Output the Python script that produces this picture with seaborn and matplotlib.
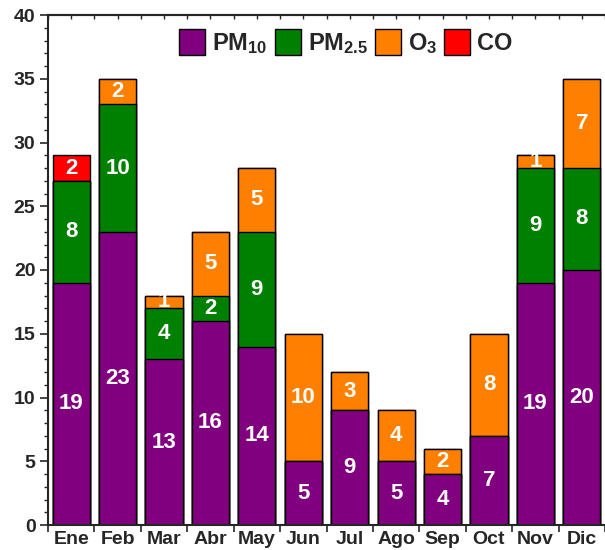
import numpy as np
import pandas as pd
import matplotlib
matplotlib.use('Agg')
import matplotlib.pyplot as plt
from matplotlib.patches import Patch
import seaborn as sns

months = ['Ene', 'Feb', 'Mar', 'Abr', 'May', 'Jun', 'Jul', 'Ago', 'Sep', 'Oct', 'Nov', 'Dic']
pm10 = [19, 23, 13, 16, 14, 5, 9, 5, 4, 7, 19, 20]
pm25 = [8, 10, 4, 2, 9, 0, 0, 0, 0, 0, 9, 8]
o3 = [0, 2, 1, 5, 5, 10, 3, 4, 2, 8, 1, 7]
co = [2, 0, 0, 0, 0, 0, 0, 0, 0, 0, 0, 0]

names = ['PM$_{10}$', 'PM$_{2.5}$', 'O$_3$', 'CO']
colors = ['#800080', '#008000', '#FF8000', '#FF0000']

sns.set_style('ticks')
plt.rcParams['font.family'] = ['Liberation Sans', 'DejaVu Sans']
plt.rcParams['font.weight'] = 'bold'
plt.rcParams['mathtext.fontset'] = 'custom'
plt.rcParams['mathtext.rm'] = 'Liberation Sans:bold'
plt.rcParams['mathtext.bf'] = 'Liberation Sans:bold'
plt.rcParams['mathtext.default'] = 'bf'

df = pd.DataFrame({'mes': months, 'PM10': pm10, 'PM25': pm25, 'O3': o3, 'CO': co})
layers = ['PM10', 'PM25', 'O3', 'CO']
cum = df[layers].cumsum(axis=1)

fig = plt.figure(figsize=(6.05, 5.5), dpi=100)
ax = fig.add_axes([48/605, 25/550, 557/605, 510/550])

# draw cumulative totals back to front
for lay, col in reversed(list(zip(layers, colors))):
    sns.barplot(x=df['mes'], y=cum[lay], color=col, width=0.8, edgecolor='black',
                linewidth=1.0, saturation=1, ax=ax, order=months)

# segment labels
bottoms = cum.shift(1, axis=1).fillna(0)
for lay in layers:
    for i in range(len(months)):
        v = df[lay][i]
        if v > 0:
            ax.text(i, bottoms[lay][i] + v/2, str(v), color='white', fontsize=16,
                    fontweight='bold', ha='center', va='center')

ax.set_ylim(0, 40)
ax.set_xlim(-0.5, 11.35)
ax.set_xlabel('')
ax.set_ylabel('')
ax.set_yticks(np.arange(0, 41, 5))
ax.set_yticks(np.arange(0, 41, 1), minor=True)
ax.tick_params(axis='y', which='major', labelsize=14, length=6, width=1.2, pad=3)
ax.tick_params(axis='y', which='minor', length=3, width=1)
ax.set_xticks(np.arange(12))
ax.set_xticklabels(months, fontsize=14, fontweight='bold')
ax.tick_params(axis='x', which='major', length=0, pad=4)
ax.set_xticks(np.arange(-0.5, 12, 1), minor=True)
ax.tick_params(axis='x', which='minor', length=5, width=1.2, direction='out')
for lab in ax.get_yticklabels():
    lab.set_fontweight('bold')

top = ax.secondary_xaxis('top')
top.set_xticks(np.arange(-0.5, 12, 0.5))
top.set_xticklabels([])
top.tick_params(length=3, width=1, direction='in')
top.spines['top'].set_linewidth(1.5)

ax.spines['right'].set_visible(False)
for s in ['left', 'bottom', 'top']:
    ax.spines[s].set_linewidth(1.5)

handles = [Patch(facecolor=c, edgecolor='black', linewidth=1) for c in colors]
ax.legend(handles, names, ncol=4, loc='upper center', bbox_to_anchor=(0.535, 1.0),
          frameon=False, fontsize=17, handlelength=1.1, handleheight=1.3,
          handletextpad=0.3, columnspacing=0.3, borderaxespad=0.2)

fig.savefig('out.png', dpi=100)
